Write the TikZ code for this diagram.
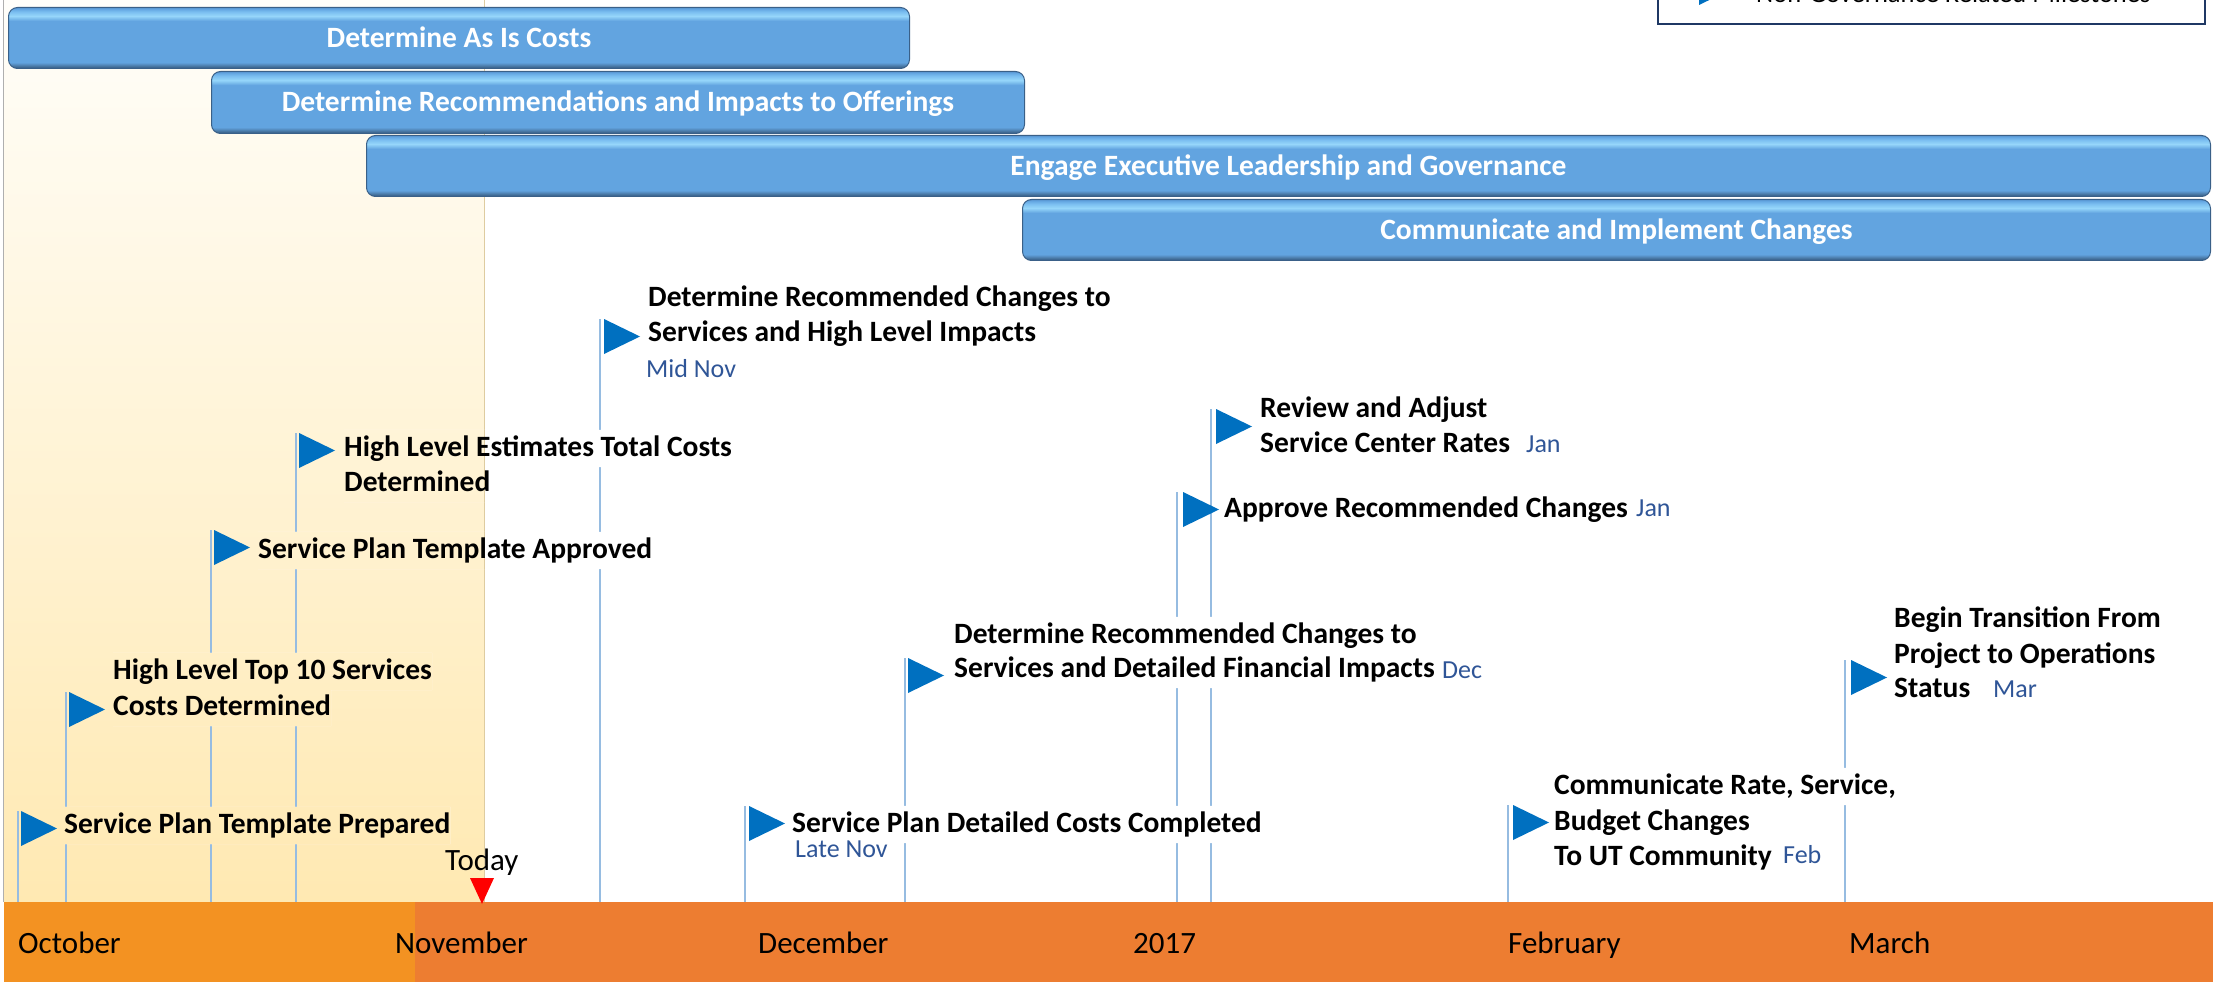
\documentclass[tikz,border=0pt]{standalone}
\usepackage{fontspec}
\setmainfont{Carlito}
\pgfdeclarelayer{bglayer}
\pgfdeclarelayer{midlayer}
\pgfsetlayers{bglayer,midlayer,main}
\definecolor{flagblue}{RGB}{0,112,192}
\definecolor{polec}{RGB}{150,188,225}
\definecolor{datec}{RGB}{47,85,151}
\definecolor{octc}{RGB}{243,146,34}
\definecolor{tlc}{RGB}{237,125,49}
\definecolor{shadetop}{RGB}{255,254,250}
\definecolor{shadebot}{RGB}{255,233,178}
\definecolor{barmid}{RGB}{98,164,224}
\definecolor{barlight}{RGB}{150,214,250}
\definecolor{barlight2}{RGB}{122,190,240}
\definecolor{bartop}{RGB}{86,146,204}
\definecolor{bardark}{RGB}{52,90,130}
\definecolor{bardark2}{RGB}{72,118,162}
\definecolor{barborder}{RGB}{58,96,136}
\definecolor{legendc}{RGB}{31,56,100}
\definecolor{edgetan}{RGB}{222,204,160}
\definecolor{edgegray}{RGB}{175,175,175}
\pgfdeclareverticalshading{barshade}{100bp}{color(0bp)=(bardark); color(25bp)=(bardark); color(27bp)=(bardark2); color(30bp)=(barmid); color(64bp)=(barmid); color(68bp)=(barlight); color(71.5bp)=(barlight2); color(74bp)=(barmid); color(75bp)=(bartop); color(100bp)=(bartop)}
\newcommand\msfont{\fontsize{29.5}{35}\selectfont\bfseries}
\newcommand\datefont{\fontsize{26}{31}\selectfont}
\newcommand\monthfont{\fontsize{31}{36}\selectfont}
\newcommand\legfont{\fontsize{26.5}{32}\selectfont}
\tikzset{
  taskbar/.style={rectangle, rounded corners=9pt, shading=barshade, draw=barborder, line width=1pt,
    anchor=north west, inner sep=0pt, text=white, font=\msfont, text height=19pt, text depth=0pt},
  ms/.style={anchor=base west, inner xsep=0pt, inner ysep=4pt, font=\msfont, text height=22pt, text depth=7pt},
  msdate/.style={anchor=base west, inner xsep=0pt, inner ysep=4pt, font=\datefont, text=datec, text height=22pt, text depth=7pt},
  month/.style={anchor=base west, inner sep=0pt, font=\monthfont},
  pole/.style={draw=polec, line width=1.5pt},
  flagfill/.style={fill=flagblue},
  tlbar/.style={anchor=north west, inner sep=0pt, minimum height=80pt}
}
\begin{document}
\begin{tikzpicture}[x=1pt,y=-1pt]
\useasboundingbox (0,0) rectangle (2213,984);

% background region (up to today)
\begin{pgfonlayer}{bglayer}
  \fill[white] (0,0) rectangle (2213,984);
  \shade[top color=shadetop,bottom color=shadebot] (4,0) rectangle (484,902);
  \draw[edgegray, line width=1.2pt] (3.5,0) -- (3.5,902);
  \draw[edgetan, line width=1pt] (484,0) -- (484,902);
\end{pgfonlayer}

% timeline
\node[tlbar, fill=octc, minimum width=411pt] (tlo) at (4,902) {};
\node[tlbar, fill=tlc, minimum width=1798pt] (tl) at (415,902) {};
\node[month] (mOct) at (18,953) {October};
\node[month] (mNov) at (395,953) {November};
\node[month] (mDec) at (758,953) {December};
\node[month] (m2017) at (1133,953) {2017};
\node[month] (mFeb) at (1508,953) {February};
\node[month] (mMar) at (1849,953) {March};

% today marker
\node[month] (today) at (445,870) {Today};
\coordinate (tt) at (482,904);
\fill[red] (tt) -- ++(-12,-26) -- ++(24,0) -- cycle;

% task bars
\node[taskbar, minimum width=901pt, minimum height=61pt] (b1) at (8,7) {Determine As Is Costs};
\node[taskbar, minimum width=813pt, minimum height=62pt] (b2) at (211,71) {Determine Recommendations and Impacts to Offerings};
\node[taskbar, minimum width=1844pt, minimum height=61pt] (b3) at (366,135) {Engage Executive Leadership and Governance};
\node[taskbar, minimum width=1188pt, minimum height=61pt] (b4) at (1022,199) {Communicate and Implement Changes};

% legend (cut off at the top)
\draw[legendc, line width=2pt, fill=white] (1658,-40) rectangle (2205,24);
\coordinate (lf) at (1699,-30);
\fill[flagfill] (lf) -- ++(0,35) -- ++(36,-17.5) -- cycle;
\node[anchor=base west, inner sep=0pt, font=\legfont] (leg) at (1756,3) {Non-Governance Related Milestones};

% flags
\foreach \n/\px/\fx/\fy in {1/18/21/811, 2/66/69/692, 3/211/214/530, 4/296/299/433, 5/600/604/319, 6/745/749/806, 7/905/908/658, 8/1177/1183/492, 9/1211/1216/409, 10/1508/1513/805, 11/1845/1851/660} {
  \coordinate (p\n) at (\px,\fy);
  \coordinate (f\n) at (\fx,\fy);
  \fill[flagfill] (f\n) -- ++(0,35) -- ++(36,-17.5) -- cycle;
}

% milestone texts
\node[ms] (m1) at (64,833) {Service Plan Template Prepared};
\node[ms] (m2a) at (113,679) {High Level Top 10 Services};
\node[ms] (m2b) at (113,715) {Costs Determined};
\node[ms] (m3) at (258,558) {Service Plan Template Approved};
\node[ms] (m4a) at (344,456) {High Level Estimates Total Costs};
\node[ms] (m4b) at (344,491) {Determined};
\node[ms] (m5a) at (648,306) {Determine Recommended Changes to};
\node[ms] (m5b) at (648,341) {Services and High Level Impacts};
\node[msdate] (m5d) at (646,377) {Mid Nov};
\node[ms] (m6a) at (792,832) {Service Plan Detailed Costs Completed};
\node[msdate] (m6d) at (795,857) {Late Nov};
\node[ms] (m7a) at (954,643) {Determine Recommended Changes to};
\node[ms] (m7b) at (954,677) {Services and Detailed Financial Impacts};
\node[msdate] (m7d) at (1442,678) {Dec};
\node[ms] (m8a) at (1224,517) {Approve Recommended Changes};
\node[msdate] (m8d) at (1636,516) {Jan};
\node[ms] (m9a) at (1260,417) {Review and Adjust};
\node[ms] (m9b) at (1260,452) {Service Center Rates};
\node[msdate] (m9d) at (1526,452) {Jan};
\node[ms] (m10a) at (1554,794) {Communicate Rate, Service,};
\node[ms] (m10b) at (1554,830) {Budget Changes};
\node[ms] (m10c) at (1554,865) {To UT Community};
\node[msdate] (m10d) at (1783,863) {Feb};
\node[ms] (m11a) at (1894,627) {Begin Transition From};
\node[ms] (m11b) at (1894,663) {Project to Operations};
\node[ms] (m11c) at (1894,697) {Status};
\node[msdate] (m11d) at (1993,697) {Mar};

% poles, hidden behind the text lines
\begin{pgfonlayer}{midlayer}
  \foreach \n in {1,...,11} {
    \draw[pole] (p\n) -- (p\n |- tl.north);
  }
  \begin{scope}
    \clip foreach \m in {m1,m2a,m2b,m3,m4a,m4b,m5a,m5b,m5d,m6a,m6d,m7a,m7b,m7d,m8a,m8d,m9a,m9b,m9d,m10a,m10b,m10c,m10d,m11a,m11b,m11c,m11d} {(\m.south west) rectangle (\m.north east)};
    \fill[white] (0,0) rectangle (2213,902);
    \shade[top color=shadetop,bottom color=shadebot] (4,0) rectangle (484,902);
    \draw[edgetan, line width=1pt] (484,0) -- (484,902);
  \end{scope}
\end{pgfonlayer}
\end{tikzpicture}
\end{document}
